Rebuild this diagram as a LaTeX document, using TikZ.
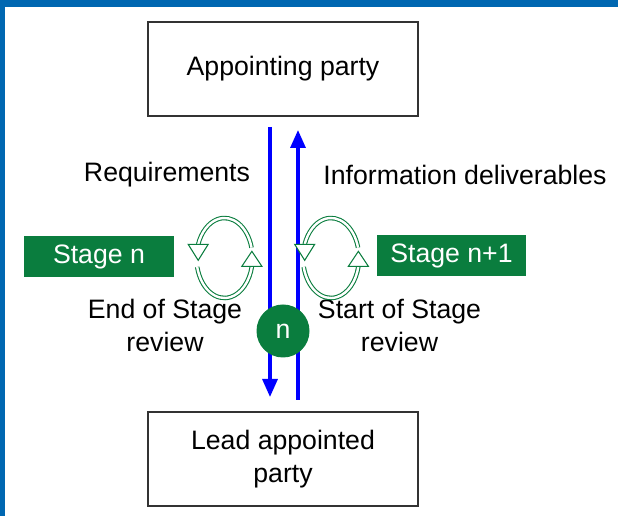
\documentclass[tikz,border=0pt]{standalone}
\usepackage{fontspec}
\setmainfont{Liberation Sans}
\usetikzlibrary{arrows.meta, positioning}
\definecolor{stagegreen}{RGB}{10,125,62}
\definecolor{frameblue}{RGB}{0,103,177}

\begin{document}
\begin{tikzpicture}[x=0.75pt, y=-0.75pt, font=\fontsize{20}{24.75}\selectfont]
    \tikzstyle{party} = [draw=black!80, line width=1pt, minimum width=202.5pt, minimum height=70.5pt, inner sep=0pt, align=center]
    \tikzstyle{stage} = [fill=stagegreen, text=white, minimum width=112pt, minimum height=30.75pt, inner sep=0pt]
    \tikzstyle{flow} = [blue, line width=2.4pt, -{Triangle[length=13.5pt, width=11.25pt]}]
    \tikzstyle{cycle line} = [draw=stagegreen, double=white, line width=0.8pt, double distance=1.8pt]
    \tikzstyle{cycle tip} = [draw=stagegreen, fill=white, line width=0.8pt, line join=miter]
    \useasboundingbox (0,0) rectangle (618,516);
    \fill[frameblue] (0,0) rectangle (618,7);
    \fill[frameblue] (0,0) rectangle (5,516);
    \node [party] at (283,69) (appt) {Appointing party};
    \node [party, below=221pt of appt] (lead) {Lead appointed\\party};
    \node [stage] at (99,256.5) (stagen) {Stage n};
    \node [stage] at (451.5,255.5) (stagenext) {Stage n+1};
    \node at (167,175) (req) {Requirements};
    \node at (465,175) (info) {Information deliverables};
    \node [align=center] at (165,325) (endrev) {End of Stage\\review};
    \node [align=center] at (399.5,325) (startrev) {Start of Stage\\review};
    \coordinate (reqtop) at (270,127);
    \coordinate (reqend) at (270,397);
    \coordinate (infostart) at (298,400);
    \coordinate (infoend) at (298,130);
    \draw[flow] (reqtop) -- (reqend);
    \draw[flow] (infostart) -- (infoend);
    % review cycles either side of the flows
    \foreach \cx in {224.5, 331} {
        \draw[cycle line] (\cx,258) ++(-15:28 and 40) arc[start angle=-15, end angle=-160, x radius=28, y radius=40];
        \draw[cycle line] (\cx,258) ++(167:28 and 40) arc[start angle=167, end angle=12, x radius=28, y radius=40];
        \draw[cycle tip] (\cx,258) ++(-160:28 and 40) ++(-10,0) -- ++(20,0) -- ++(-10,16) -- cycle;
        \draw[cycle tip] (\cx,258) ++(12:28 and 40) ++(-10,0) -- ++(20,0) -- ++(-10,-15) -- cycle;
    }
    \node [circle, fill=stagegreen, text=white, minimum size=39.75pt, inner sep=0pt] at (283,331) (stagenum) {n};
\end{tikzpicture}
\end{document}
